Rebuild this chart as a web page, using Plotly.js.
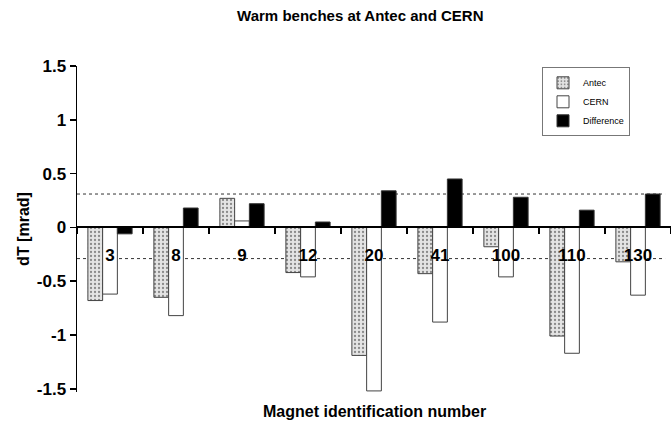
<!DOCTYPE html>
<html>
<head>
<meta charset="utf-8">
<script src="https://cdn.plot.ly/plotly-3.0.1.min.js"></script>
<style>html,body{margin:0;padding:0;background:#fff;}#chart{width:671px;height:423px;}</style>
</head>
<body>
<div id="chart"></div>
<script>
// Data
const magnets = ['3', '8', '9', '12', '20', '41', '100', '110', '130'];
const antec = [-0.68, -0.65, 0.27, -0.42, -1.19, -0.43, -0.18, -1.01, -0.32];
const cern = [-0.62, -0.82, 0.06, -0.46, -1.52, -0.88, -0.46, -1.17, -0.63];
const difference = [-0.06, 0.18, 0.22, 0.05, 0.34, 0.45, 0.28, 0.16, 0.31];
const refLines = [0.31, -0.29];
const yTicks = [-1.5, -1, -0.5, 0, 0.5, 1, 1.5];

const FONT = 'Liberation Sans, Arial, Helvetica, sans-serif';

const traces = [
  {
    type: 'bar', name: 'Antec', x: magnets, y: antec,
    marker: {
      color: '#e4e4e4',
      pattern: {shape: '.', fgcolor: '#8a8a8a', bgcolor: '#e4e4e4', size: 4, solidity: 0.25},
      line: {color: '#444', width: 1}
    }
  },
  {
    type: 'bar', name: 'CERN', x: magnets, y: cern,
    marker: {color: '#ffffff', line: {color: '#444', width: 1}}
  },
  {
    type: 'bar', name: 'Difference', x: magnets, y: difference,
    marker: {color: '#000000', line: {color: '#333', width: 1}}
  }
];

const shapes = refLines.map(v => ({
  type: 'line', xref: 'paper', yref: 'y', x0: 0, x1: 0.99, y0: v, y1: v,
  line: {color: '#333', width: 1, dash: 'dot'}, layer: 'below'
}));

const layout = {
  width: 671, height: 423,
  margin: {l: 77, r: 0, t: 66, b: 31},
  paper_bgcolor: '#fff', plot_bgcolor: '#fff',
  font: {family: FONT, color: '#000'},
  title: {
    text: 'Warm benches at Antec and CERN',
    font: {family: FONT, size: 15, weight: 'bold', color: '#000'},
    x: 0.537, xanchor: 'center', y: 0.962, yanchor: 'middle'
  },
  barmode: 'group', bargap: 0.33, bargroupgap: 0,
  xaxis: {
    type: 'category',
    anchor: 'free', position: 1.53 / 3.03,
    showline: true, linecolor: '#000', linewidth: 2,
    ticks: 'outside', tickson: 'boundaries', ticklen: 6, tickwidth: 1.5, tickcolor: '#000',
    tickfont: {family: FONT, size: 17, weight: 'bold', color: '#000'},
    ticklabelstandoff: 12,
    showgrid: false, zeroline: false,
    fixedrange: true
  },
  yaxis: {
    range: [-1.53, 1.5],
    tickvals: yTicks,
    ticktext: yTicks.map(v => String(v)),
    showline: true, linecolor: '#000', linewidth: 1.5,
    ticks: 'outside', ticklen: 6, tickwidth: 1.5, tickcolor: '#000',
    tickfont: {family: FONT, size: 17, weight: 'bold', color: '#000'},
    showgrid: false, zeroline: false,
    title: {text: 'dT [mrad]', font: {family: FONT, size: 16, weight: 'bold', color: '#000'}, standoff: 3}
  },
  shapes: shapes,
  annotations: [{
    text: 'Magnet identification number', xref: 'paper', yref: 'paper',
    x: 0.5, y: -0.061, xanchor: 'center', yanchor: 'middle', showarrow: false,
    font: {family: FONT, size: 16, weight: 'bold', color: '#000'}
  }],
  legend: {
    x: 0.931, xanchor: 'right', y: 0.996, yanchor: 'top',
    bgcolor: '#fff', bordercolor: '#777', borderwidth: 1,
    font: {family: FONT, size: 9, color: '#000'},
    itemwidth: 30, tracegroupgap: 0
  },
  showlegend: true
};

Plotly.newPlot('chart', traces, layout, {displayModeBar: false, staticPlot: true});
</script>
</body>
</html>
